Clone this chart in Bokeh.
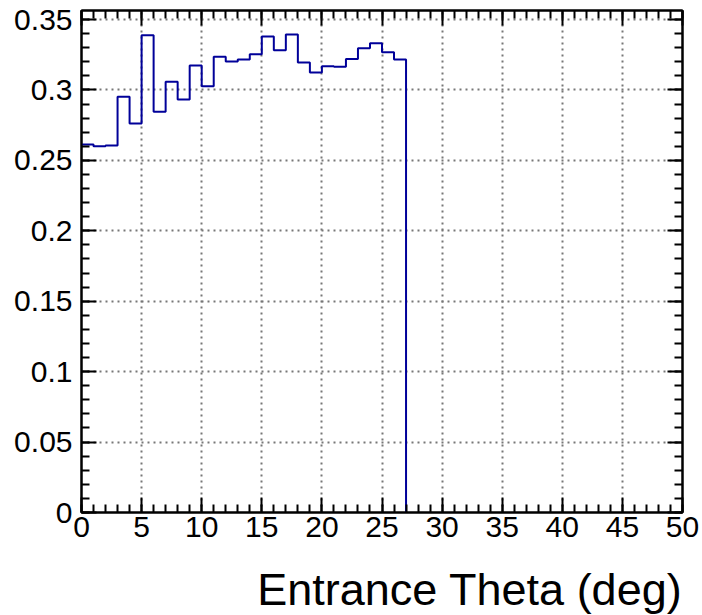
from bokeh.plotting import figure
from bokeh.models import (Range1d, LinearAxis, SingleIntervalTicker,
                          CustomJSTickFormatter, Title)
from bokeh.embed import file_html
from bokeh.resources import INLINE

# ---- data ----
bin_edges = list(range(0, 28))          # 1-degree bins, 0..27 deg
bin_values = [0.2613, 0.2601, 0.2605, 0.2951, 0.2762, 0.3389, 0.2845,
              0.3058, 0.2932, 0.3173, 0.3027, 0.3235, 0.3202, 0.3216,
              0.3254, 0.3379, 0.3282, 0.3393, 0.3195, 0.3124, 0.3169,
              0.3164, 0.3220, 0.3296, 0.3332, 0.3268, 0.3216]
x_label = "Entrance Theta (deg)"
x_limits = (0, 50)
y_limits = (0, 0.3564)

FONT = "Liberation Sans"
LINE_COLOR = "#000099"

p = figure(width=702, height=615, output_backend="svg", toolbar_location=None,
           x_range=Range1d(*x_limits), y_range=Range1d(*y_limits),
           min_border_left=81, min_border_right=20, min_border_top=10,
           min_border_bottom=103,
           background_fill_color="white", border_fill_color="white")

p.outline_line_color = "black"
p.outline_line_width = 2

# step line built from bin edges / values
step_y = bin_values + [0.0]
p.step(x=bin_edges, y=step_y, mode="after", line_color=LINE_COLOR, line_width=2)

xt = SingleIntervalTicker(interval=5, num_minor_ticks=5)
yt = SingleIntervalTicker(interval=0.05, num_minor_ticks=5)
yfmt = CustomJSTickFormatter(code="return tick.toFixed(2).replace(/\\.?0+$/, '');")
blank = CustomJSTickFormatter(code="return '';")


def style_axis(ax, show_labels):
    ax.axis_line_color = "black"
    ax.axis_line_width = 2
    ax.major_tick_in = 15
    ax.major_tick_out = 0
    ax.minor_tick_in = 8
    ax.minor_tick_out = 0
    ax.major_tick_line_width = 2
    ax.minor_tick_line_width = 2
    ax.major_tick_line_color = "black"
    ax.minor_tick_line_color = "black"
    ax.major_label_text_font = FONT
    ax.major_label_text_color = "black"
    if show_labels:
        ax.major_label_text_font_size = "30px"
    else:
        ax.formatter = blank
        ax.major_label_text_font_size = "1px"
        ax.major_label_standoff = 0


xa = p.xaxis[0]
xa.ticker = xt
style_axis(xa, True)
xa.major_label_standoff = 4

ya = p.yaxis[0]
ya.ticker = yt
ya.formatter = yfmt
style_axis(ya, True)
ya.major_label_standoff = 9

top_ax = LinearAxis(ticker=SingleIntervalTicker(interval=5, num_minor_ticks=5))
style_axis(top_ax, False)
p.add_layout(top_ax, "above")

right_ax = LinearAxis(ticker=SingleIntervalTicker(interval=0.05, num_minor_ticks=5))
style_axis(right_ax, False)
p.add_layout(right_ax, "right")

p.xgrid.ticker = xt
p.ygrid.ticker = yt
for g in (p.xgrid[0], p.ygrid[0]):
    g.grid_line_color = "#777777"
    g.grid_line_dash = "2 4"
    g.grid_line_width = 2

# invisible spacer between the tick labels and the axis title
spacer = Title(text=" ", text_font=FONT, text_font_size="1px", standoff=18)
p.add_layout(spacer, "below")

title = Title(text=x_label, align="right", text_font=FONT, text_font_size="45px",
              text_font_style="normal", text_color="black", standoff=2)
p.add_layout(title, "below")

open("out.html", "w").write(file_html(p, INLINE))
